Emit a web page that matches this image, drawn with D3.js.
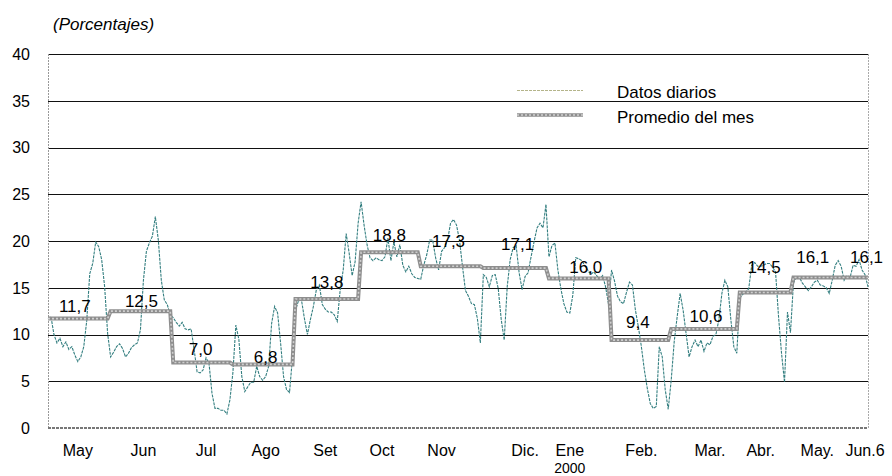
<!DOCTYPE html>
<meta charset="utf-8">
<head>
    <script src="https://d3js.org/d3.v7.min.js"></script>
    <style>
        body { margin: 0; background: #fff; }
        text { font-family: "Liberation Sans", Arial, sans-serif; fill: #000; }
    </style>
</head>
<body>
<div id="chart"></div>
<script>
    // labels under the axis and the business day they sit on
    var tickLabels = ["May", "Jun", "Jul", "Ago", "Set", "Oct", "Nov", "Dic.", "Ene", "Feb.", "Mar.", "Abr.", "May.", "Jun.6"];
    var tickAt = [10, 32, 53, 73, 93, 112, 132, 160, 175, 199, 222, 239, 258, 274];

    // business days in each month (May 1999 .. Jun 6 2000) and the monthly mean
    var monthDays = [21, 21, 20, 21, 22, 20, 21, 22, 21, 20, 23, 18, 22, 4];
    var monthAvg = [11.7, 12.5, 7.0, 6.8, 13.8, 18.8, 17.3, 17.1, 16.0, 9.4, 10.6, 14.5, 16.1, 16.1];

    var yTicks = [0, 5, 10, 15, 20, 25, 30, 35, 40];

    // daily values, one per business day
    var dailyRate = [
        // may 99
        11.7, 11.9, 10.0, 9.1, 9.6, 8.7, 9.2, 8.4, 8.7, 7.8, 7.1, 7.6, 8.7, 11.5, 16.5, 17.6, 19.9, 19.4, 18.0, 15.1, 10.1,
        // jun 99
        7.6, 8.1, 8.7, 9.0, 8.5, 7.6, 8.0, 8.6, 8.9, 9.1, 10.5, 15.8, 18.9, 19.8, 20.5, 22.6, 20.1, 15.8, 13.7, 13.2, 12.1,
        // jul 99
        11.8, 11.3, 10.9, 11.3, 10.6, 10.5, 10.6, 8.4, 6.0, 5.9, 6.2, 7.5, 6.9, 3.7, 2.1, 2.1, 1.9, 1.9, 1.5, 3.0,
        // ago 99
        5.9, 11.0, 9.5, 5.5, 3.9, 4.4, 4.9, 4.9, 6.6, 5.5, 5.1, 5.5, 6.6, 11.2, 13.0, 12.3, 9.1, 5.5, 4.1, 3.8, 7.6,
        // set 99
        12.6, 13.6, 13.7, 11.7, 10.0, 11.6, 13.0, 14.8, 15.3, 13.2, 12.7, 12.4, 12.4, 12.1, 11.4, 14.8, 16.9, 20.8, 18.7, 16.3, 17.8, 21.9,
        // oct 99
        24.2, 21.7, 19.6, 18.2, 17.9, 18.2, 18.0, 17.9, 18.3, 20.3, 17.9, 19.9, 18.3, 19.6, 17.4, 16.7, 17.3, 16.5, 16.1, 16.0,
        // nov 99
        15.9, 17.4, 18.5, 20.1, 20.1, 18.2, 16.9, 18.9, 19.3, 20.1, 21.9, 22.3, 21.7, 20.1, 17.3, 14.7, 14.1, 13.3, 13.2, 11.7, 9.1,
        // dic 99
        16.4, 16.1, 15.1, 16.3, 16.4, 14.9, 11.6, 9.4, 15.1, 18.0, 19.3, 19.5, 16.6, 14.8, 16.2, 16.6, 18.3, 19.9, 21.4, 21.9, 21.4, 23.9,
        // ene 00
        18.3, 19.5, 19.8, 16.9, 14.9, 13.3, 12.4, 12.3, 14.2, 18.2, 18.1, 17.9, 17.4, 16.9, 16.4, 16.7, 16.3, 15.9, 16.3, 15.1, 13.2,
        // feb 00
        16.9, 15.7, 14.1, 13.5, 13.3, 14.5, 15.6, 15.3, 12.6, 10.8, 8.7, 6.2, 4.2, 2.6, 2.1, 2.3, 8.7, 7.6, 4.1, 2.0,
        // mar 00
        5.1, 9.2, 11.9, 14.4, 12.6, 10.1, 7.6, 8.7, 9.4, 8.7, 9.4, 8.2, 9.1, 8.9, 9.8, 10.0, 11.6, 14.4, 15.8, 15.1, 11.6, 8.7, 8.0,
        // abr 00
        13.9, 14.3, 14.5, 14.9, 17.4, 17.7, 17.3, 17.3, 17.4, 17.6, 17.6, 17.2, 16.7, 11.9, 8.0, 4.9, 12.4, 10.2,
        // may 00
        15.5, 16.2, 16.1, 15.5, 15.1, 14.7, 15.1, 15.6, 15.8, 15.3, 15.2, 15.0, 14.4, 15.8, 17.4, 17.9, 17.3, 15.8, 16.3, 16.1, 17.4, 17.3,
        // jun 00
        18.0, 16.9, 16.4, 15.1
    ];

    // hand nudges for the mean labels [dx, dy] (layout only)
    var labelShift = [[-3, -7], [1, -4.5], [-1, -7.5], [3, -1], [0, -10.7], [0, -11], [-2, -19.5],
        [3, -18], [7, -5], [-2, -12], [2, -7], [-1, -19], [-12, -14], [3, -14]];

    var width = 892, height = 476;
    var plot = { left: 48, right: 868, top: 54, bottom: 428 };

    var svg = d3.select("#chart").append("svg")
        .attr("width", width)
        .attr("height", height);

    var x = d3.scaleLinear().domain([0, dailyRate.length - 1]).range([plot.left, plot.right]);
    var y = d3.scaleLinear().domain([0, 40]).range([plot.bottom, plot.top]);

    // monthly mean repeated on each day of its month, plus month spans
    var avgSeries = [];
    var spans = [];
    var start = 0;
    monthDays.forEach(function(n, m) {
        for (var k = 0; k < n; k++) avgSeries.push(monthAvg[m]);
        spans.push([start, start + n - 1]);
        start += n;
    });

    // grid
    svg.append("g").selectAll("line")
        .data(yTicks.filter(function(d) { return d > 0; }))
        .enter().append("line")
        .attr("x1", plot.left).attr("x2", plot.right)
        .attr("y1", function(d) { return Math.round(y(d)) + 0.5; })
        .attr("y2", function(d) { return Math.round(y(d)) + 0.5; })
        .attr("stroke", "#111").attr("stroke-width", 1);

    // frame: dotted sides, heavier bottom
    svg.append("line")
        .attr("x1", plot.left + 0.5).attr("x2", plot.left + 0.5)
        .attr("y1", plot.top).attr("y2", plot.bottom)
        .attr("stroke", "#999").attr("stroke-dasharray", "2,1");
    svg.append("line")
        .attr("x1", plot.right + 0.5).attr("x2", plot.right + 0.5)
        .attr("y1", plot.top).attr("y2", plot.bottom)
        .attr("stroke", "#aaa").attr("stroke-dasharray", "2,1");
    svg.append("line")
        .attr("x1", plot.left).attr("x2", plot.right)
        .attr("y1", plot.bottom).attr("y2", plot.bottom)
        .attr("stroke", "#777").attr("stroke-width", 2).attr("stroke-dasharray", "3,1");

    // y tick labels
    svg.append("g").selectAll("text")
        .data(yTicks)
        .enter().append("text")
        .attr("x", 30)
        .attr("y", function(d) { return y(d); })
        .attr("dy", "0.36em")
        .attr("text-anchor", "end")
        .style("font-size", "16px")
        .text(function(d) { return d; });

    // month labels
    svg.append("g").selectAll("text")
        .data(tickLabels)
        .enter().append("text")
        .attr("x", function(d, i) { return x(tickAt[i]); })
        .attr("y", 456)
        .attr("text-anchor", "middle")
        .style("font-size", "16px")
        .text(function(d) { return d; });
    svg.append("text")
        .attr("x", x(tickAt[8]))
        .attr("y", 473)
        .attr("text-anchor", "middle")
        .style("font-size", "14px")
        .text("2000");

    // title
    svg.append("text")
        .attr("x", 53).attr("y", 30)
        .style("font-size", "17px")
        .style("font-style", "italic")
        .text("(Porcentajes)");

    var line = d3.line()
        .x(function(d, i) { return x(i); })
        .y(function(d) { return y(d); });

    // daily series
    svg.append("path")
        .datum(dailyRate)
        .attr("d", line)
        .attr("fill", "none")
        .attr("stroke", "#347f80")
        .attr("stroke-width", 1.1)
        .attr("stroke-dasharray", "3,1");

    // monthly mean step (gray, textured)
    svg.append("path")
        .datum(avgSeries)
        .attr("d", line)
        .attr("fill", "none")
        .attr("stroke", "#8e8e8e")
        .attr("stroke-width", 4);
    svg.append("path")
        .datum(avgSeries)
        .attr("d", line)
        .attr("fill", "none")
        .attr("stroke", "#cfcfcf")
        .attr("stroke-width", 1.6)
        .attr("stroke-dasharray", "2,2");

    // mean labels
    var fmt = d3.format(".1f");
    svg.append("g").selectAll("text")
        .data(monthAvg)
        .enter().append("text")
        .attr("x", function(d, i) { return x((spans[i][0] + spans[i][1]) / 2) + labelShift[i][0]; })
        .attr("y", function(d, i) { return y(d) + labelShift[i][1]; })
        .attr("text-anchor", "middle")
        .style("font-size", "17px")
        .text(function(d) { return fmt(d).replace(".", ","); });

    // legend
    var legend = svg.append("g");
    legend.append("line")
        .attr("x1", 517).attr("x2", 583).attr("y1", 90.5).attr("y2", 90.5)
        .attr("stroke", "#b4b48a").attr("stroke-width", 1).attr("stroke-dasharray", "3,1");
    legend.append("text")
        .attr("x", 617).attr("y", 98)
        .style("font-size", "17px")
        .text("Datos diarios");
    legend.append("line")
        .attr("x1", 517).attr("x2", 583).attr("y1", 115).attr("y2", 115)
        .attr("stroke", "#8e8e8e").attr("stroke-width", 3.5);
    legend.append("line")
        .attr("x1", 517).attr("x2", 583).attr("y1", 115).attr("y2", 115)
        .attr("stroke", "#cfcfcf").attr("stroke-width", 1.4).attr("stroke-dasharray", "2,2");
    legend.append("text")
        .attr("x", 617).attr("y", 123)
        .style("font-size", "17px")
        .text("Promedio del mes");
</script>
</body>
</html>
